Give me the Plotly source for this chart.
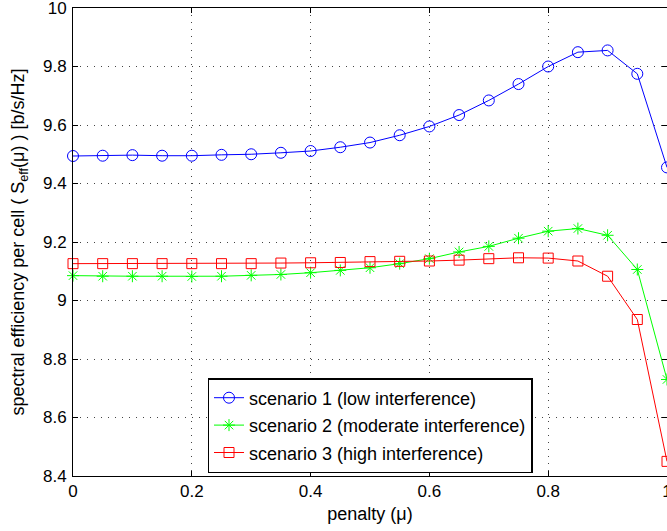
import plotly.graph_objects as go

penalty = [0.0, 0.05, 0.1, 0.15, 0.2, 0.25, 0.3, 0.35, 0.4, 0.45, 0.5,
           0.55, 0.6, 0.65, 0.7, 0.75, 0.8, 0.85, 0.9, 0.95, 1.0]

scenario1 = [9.494, 9.495, 9.497, 9.495, 9.495, 9.498, 9.500, 9.505, 9.511, 9.524, 9.540,
             9.565, 9.595, 9.634, 9.684, 9.740, 9.800, 9.849, 9.855, 9.775, 9.455]
scenario2 = [9.085, 9.083, 9.083, 9.083, 9.082, 9.083, 9.086, 9.089, 9.095, 9.103, 9.112,
             9.126, 9.143, 9.166, 9.185, 9.213, 9.237, 9.246, 9.223, 9.106, 8.730]
scenario3 = [9.126, 9.126, 9.126, 9.126, 9.126, 9.126, 9.126, 9.128, 9.129, 9.130, 9.133,
             9.134, 9.135, 9.138, 9.143, 9.146, 9.145, 9.135, 9.083, 8.935, 8.450]

names = ["scenario 1 (low interference)",
         "scenario 2 (moderate interference)",
         "scenario 3 (high interference)"]
colors = ["#0000ff", "#00ff00", "#ff0000"]
symbols = ["circle-open", "asterisk-open", "square-open"]
sizes = [11, 10, 10]

x_ticks = [0, 0.2, 0.4, 0.6, 0.8, 1]
x_tick_text = ["0", "0.2", "0.4", "0.6", "0.8", "1"]
y_ticks = [8.4, 8.6, 8.8, 9.0, 9.2, 9.4, 9.6, 9.8, 10.0]
y_tick_text = ["8.4", "8.6", "8.8", "9", "9.2", "9.4", "9.6", "9.8", "10"]

FONT = "Liberation Sans, Arial, Helvetica, sans-serif"
TICK_SIZE = 17
TEXT_SIZE = 18

fig = go.Figure()
for i, ys in enumerate([scenario1, scenario2, scenario3]):
    fig.add_trace(go.Scatter(
        x=penalty, y=ys, mode="lines+markers", name=names[i],
        legendgroup=f"g{i}",
        line=dict(color=colors[i], width=1),
        marker=dict(symbol=symbols[i], size=sizes[i], color=colors[i],
                    line=dict(color=colors[i], width=1)),
        cliponaxis=False,
    ))

axis_common = dict(
    showline=True, linecolor="black", linewidth=1, mirror="ticks",
    ticks="inside", ticklen=5, tickcolor="black", tickwidth=1,
    showgrid=True, gridcolor="#444444", gridwidth=1, griddash="1px,6px",
    zeroline=False, ticklabeloverflow="allow",
    tickfont=dict(family=FONT, size=TICK_SIZE, color="black"),
)

fig.update_xaxes(range=[0, 1], tickvals=x_ticks, ticktext=x_tick_text,
                 title=dict(text="penalty (μ)", font=dict(family=FONT, size=TEXT_SIZE, color="black"),
                            standoff=6),
                 **axis_common)
fig.update_yaxes(range=[8.4, 10], tickvals=y_ticks, ticktext=y_tick_text,
                 ticklabelstandoff=2,
                 title=dict(text="spectral efficiency per cell ( S<sub>eff</sub>(μ) ) [b/s/Hz]",
                            font=dict(family=FONT, size=TEXT_SIZE, color="black"), standoff=13),
                 **axis_common)

fig.update_layout(
    width=667, height=531,
    margin=dict(l=73, r=0, t=8, b=55, autoexpand=False),
    paper_bgcolor="white", plot_bgcolor="white",
    font=dict(family=FONT, size=TEXT_SIZE, color="black"),
    showlegend=True,
    legend=dict(x=0.5, y=0.2094, xanchor="center", yanchor="top",
                bgcolor="white", bordercolor="black", borderwidth=1.5,
                tracegroupgap=1,
                font=dict(family=FONT, size=TEXT_SIZE, color="black")),
)

fig.write_html("out.html", config={"displayModeBar": False},
               post_script="document.body.style.margin='0';document.body.style.overflow='hidden';")
